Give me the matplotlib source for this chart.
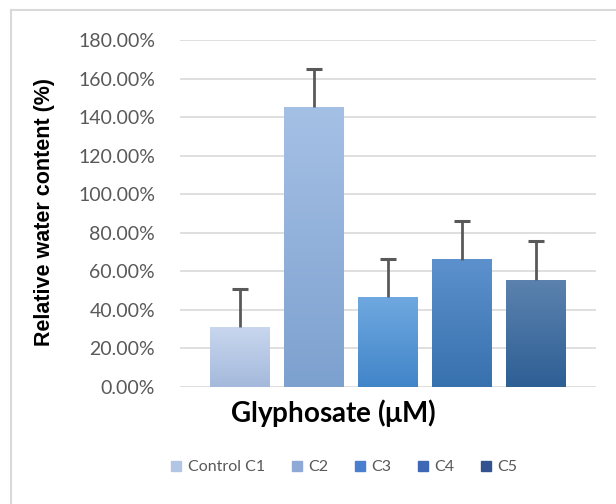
import numpy as np
import matplotlib.pyplot as plt
from matplotlib.colors import LinearSegmentedColormap
from matplotlib.lines import Line2D
from matplotlib.ticker import FuncFormatter

labels = ['Control C1', 'C2', 'C3', 'C4', 'C5']
values = [31, 145, 46.5, 66, 55.5]
errors = [20, 20, 20, 20, 20]
top_colors = ['#c8d7ee', '#a5c0e5', '#6fa8e0', '#5c91cd', '#5b82ae']
bot_colors = ['#a4b9dc', '#7da1cf', '#4185c9', '#3771ae', '#2e5f95']
legend_colors = ['#b3c5e4', '#8fa9d6', '#4a7fd0', '#3e67b6', '#34528f']

fig = plt.figure(figsize=(6.16, 5.04), dpi=100)
ax = fig.add_axes([180/616, 1-387/504, 416/616, 347/504])

x = np.arange(len(values))
w = 0.81
bars = ax.bar(x, values, width=w, color='none', linewidth=0, zorder=3)
for i, b in enumerate(bars):
    cm = LinearSegmentedColormap.from_list('g', [bot_colors[i], top_colors[i]])
    grad = np.linspace(0, 1, 100).reshape(-1, 1)
    ax.imshow(grad, cmap=cm, origin='lower', aspect='auto',
              extent=(b.get_x(), b.get_x()+w, 0, values[i]), zorder=3)

# upper-only error bars
tops = np.array(values) + np.array(errors)
ax.vlines(x, values, tops, color='#595959', linewidth=2, zorder=4)
ax.plot(x, tops, linestyle='none', marker='_', markersize=12,
        markeredgewidth=2.2, color='#595959', zorder=4)

ax.set_xlim(2-2.81, 2+2.81)
ax.set_ylim(0, 180)
ax.set_yticks(range(0, 181, 20))
ax.yaxis.set_major_formatter(FuncFormatter(lambda v, p: f'{v:.2f}%'))
ax.set_xticks([])
ax.tick_params(axis='y', length=0, pad=18, labelsize=14, labelcolor='#595959')
for t in ax.get_yticklabels():
    t.set_family('Lato')
ax.grid(axis='y', color='#d9d9d9', linewidth=1.2, zorder=0)
for s in ax.spines.values():
    s.set_visible(False)

fig.text(45/616, 1-212/504, 'Relative water content (%)', rotation=90,
         ha='center', va='center', fontsize=15.5, fontweight='bold',
         family='Liberation Sans')
fig.text(333/616, 1-413/504, r'Glyphosate ($\mathregular{\mu}$M)', ha='center', va='center',
         fontsize=20, fontweight='bold', family='Lato')

handles = [Line2D([], [], marker='s', linestyle='none', markersize=7,
                  markerfacecolor=legend_colors[i], markeredgecolor=legend_colors[i])
           for i in range(len(labels))]
leg = fig.legend(handles, labels, loc='center', bbox_to_anchor=(343/616, 1-467/504),
                 ncol=5, frameon=False, handletextpad=0.2, columnspacing=1.5,
                 handlelength=1.0, prop={'family': 'Lato', 'size': 11.5})
for t in leg.get_texts():
    t.set_color('#595959')

# chart border
fig.add_artist(Line2D([11/616, 11/616], [0, 1-10/504], color='#d9d9d9', linewidth=1.5))
fig.add_artist(Line2D([11/616, 1], [1-10/504, 1-10/504], color='#d9d9d9', linewidth=1.5))

fig.savefig('out.png', dpi=100)
